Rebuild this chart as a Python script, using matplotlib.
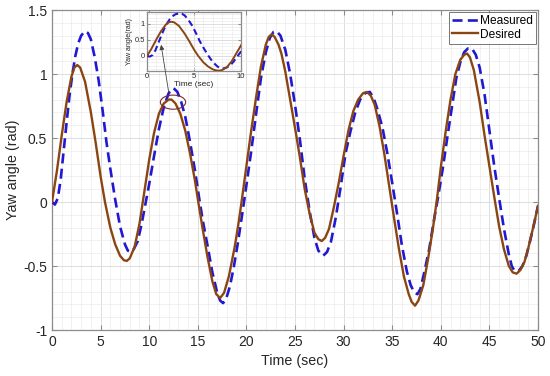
import matplotlib
matplotlib.use("Agg")
import matplotlib.pyplot as plt
from matplotlib.patches import Ellipse
from matplotlib.ticker import MultipleLocator

plt.rcParams['font.family'] = ['Liberation Sans', 'DejaVu Sans']

# ---- data ----
t_desired = [0.0, 0.5, 1.0, 1.5, 2.0, 2.3, 2.6, 2.9, 3.4, 4.0, 4.5, 5.0, 5.45, 6.0, 6.5, 7.0, 7.4, 7.7,
             8.0, 8.5, 9.0, 9.5, 10.0, 10.5, 11.0, 11.5, 12.0, 12.3, 12.7, 13.2, 13.7, 14.2, 14.7, 15.05,
             15.5, 16.0, 16.5, 16.9, 17.3, 17.7, 18.2, 18.8, 19.2, 19.5, 20.0, 20.5, 21.0, 21.5, 22.0,
             22.3, 22.6, 22.9, 23.3, 23.6, 24.0, 24.5, 25.0, 25.5, 26.0, 26.5, 27.0, 27.4, 27.75, 28.1,
             28.5, 29.0, 29.5, 30.0, 30.5, 31.0, 31.5, 32.0, 32.4, 32.8, 33.2, 33.7, 34.2, 34.7, 35.2,
             35.7, 36.2, 36.7, 37.0, 37.35, 37.7, 38.2, 38.7, 39.2, 39.6, 40.0, 40.5, 41.0, 41.5, 42.0,
             42.4, 42.7, 43.0, 43.4, 44.0, 44.5, 45.0, 45.5, 46.0, 46.5, 47.0, 47.4, 47.8, 48.2, 48.6,
             49.0, 49.5, 50.0]
y_desired = [0.00, 0.24, 0.52, 0.78, 0.98, 1.05, 1.07, 1.05, 0.94, 0.70, 0.46, 0.20, 0.00, -0.20, -0.33,
             -0.42, -0.455, -0.46, -0.44, -0.35, -0.17, 0.08, 0.33, 0.54, 0.69, 0.77, 0.80, 0.80, 0.77,
             0.69, 0.56, 0.38, 0.17, 0.00, -0.21, -0.43, -0.62, -0.72, -0.75, -0.71, -0.58, -0.35, -0.16,
             0.00, 0.28, 0.56, 0.82, 1.06, 1.23, 1.29, 1.31, 1.29, 1.23, 1.16, 1.02, 0.80, 0.58, 0.35,
             0.10, -0.09, -0.24, -0.29, -0.305, -0.28, -0.21, -0.04, 0.15, 0.36, 0.56, 0.71, 0.80, 0.85,
             0.86, 0.83, 0.76, 0.59, 0.37, 0.12, -0.13, -0.37, -0.58, -0.72, -0.78, -0.81, -0.77, -0.65,
             -0.44, -0.20, 0.02, 0.27, 0.55, 0.80, 1.00, 1.11, 1.15, 1.16, 1.13, 1.03, 0.78, 0.52, 0.28,
             0.04, -0.19, -0.37, -0.50, -0.55, -0.56, -0.53, -0.47, -0.36, -0.20, -0.03]

t_measured = [0.0, 0.3, 0.6, 0.9, 1.2, 1.5, 1.8, 2.1, 2.4, 2.7, 3.0, 3.4, 3.7, 4.0, 4.4, 4.8, 5.2, 5.6,
              6.0, 6.5, 7.0, 7.5, 7.8, 8.1, 8.4, 8.8, 9.2, 9.6, 10.0, 10.5, 11.0, 11.5, 12.0, 12.5, 12.9,
              13.3, 13.7, 14.2, 14.7, 15.1, 15.5, 16.0, 16.5, 17.0, 17.3, 17.6, 17.9, 18.3, 18.7, 19.1,
              19.5, 20.0, 20.5, 21.0, 21.5, 22.0, 22.4, 22.8, 23.1, 23.5, 24.0, 24.5, 25.0, 25.5, 26.0,
              26.5, 27.0, 27.4, 27.9, 28.3, 28.7, 29.2, 29.7, 30.2, 30.7, 31.2, 31.7, 32.2, 32.7, 33.1,
              33.5, 34.0, 34.5, 35.0, 35.5, 36.0, 36.5, 36.9, 37.3, 37.6, 37.9, 38.3, 38.8, 39.3, 39.7,
              40.2, 40.7, 41.2, 41.6, 42.0, 42.4, 42.8, 43.2, 43.6, 44.0, 44.5, 45.0, 45.5, 46.0, 46.5,
              47.0, 47.3, 47.6, 48.0, 48.4, 48.8, 49.2, 49.6, 50.0]
y_measured = [0.00, -0.02, 0.03, 0.18, 0.40, 0.62, 0.83, 1.00, 1.14, 1.24, 1.30, 1.335, 1.32, 1.27, 1.13,
              0.95, 0.72, 0.47, 0.26, 0.02, -0.19, -0.33, -0.38, -0.39, -0.37, -0.31, -0.18, -0.02, 0.14,
              0.36, 0.57, 0.74, 0.85, 0.89, 0.86, 0.78, 0.67, 0.47, 0.25, 0.05, -0.14, -0.34, -0.55, -0.71,
              -0.77, -0.79, -0.76, -0.66, -0.51, -0.33, -0.13, 0.13, 0.40, 0.69, 0.97, 1.17, 1.28, 1.33,
              1.335, 1.30, 1.19, 1.00, 0.76, 0.49, 0.18, -0.07, -0.28, -0.38, -0.42, -0.39, -0.31, -0.12,
              0.12, 0.38, 0.55, 0.70, 0.80, 0.85, 0.86, 0.81, 0.72, 0.58, 0.38, 0.15, -0.09, -0.34, -0.54,
              -0.65, -0.71, -0.72, -0.68, -0.55, -0.37, -0.14, 0.03, 0.26, 0.52, 0.77, 0.97, 1.09, 1.17,
              1.20, 1.20, 1.15, 1.05, 0.84, 0.56, 0.28, 0.03, -0.21, -0.41, -0.50, -0.54, -0.54, -0.50,
              -0.42, -0.30, -0.17, -0.03]

x_ticks = [0, 5, 10, 15, 20, 25, 30, 35, 40, 45, 50]
y_ticks = [-1, -0.5, 0, 0.5, 1, 1.5]
y_ticklabels = ['-1', '-0.5', '0', '0.5', '1', '1.5']
inset_x_ticks = [0, 5, 10]
inset_y_ticks = [0, 0.5, 1]
inset_y_ticklabels = ['0', '0.5', '1']

c_meas = '#2218d2'
c_des = '#8a4612'
spine_c = '#8c8c8c'

fig = plt.figure(figsize=(5.5, 3.76), dpi=100)
ax = fig.add_axes([52/550, 1-330/376, (538-52)/550, (330-10)/376])


def style_axes(a, fs, minor_x, minor_y):
    a.xaxis.set_minor_locator(MultipleLocator(minor_x))
    a.yaxis.set_minor_locator(MultipleLocator(minor_y))
    a.grid(True, which='major', color='#d8d8d8', lw=0.6)
    a.grid(True, which='minor', color='#ebebeb', lw=0.5)
    a.set_axisbelow(True)
    a.tick_params(which='both', direction='in', top=True, right=True, colors=spine_c,
                  labelcolor='#262626', labelsize=fs)
    a.tick_params(which='major', length=3.5)
    a.tick_params(which='minor', length=0)
    for s in a.spines.values():
        s.set_color(spine_c)
        s.set_linewidth(0.9)


ax.plot(t_measured, y_measured, color=c_meas, lw=1.9, dashes=(3.8, 2.0), label='Measured', zorder=3)
ax.plot(t_desired, y_desired, color=c_des, lw=1.7, label='Desired', zorder=4)
ax.set_xlim(0, 50)
ax.set_ylim(-1, 1.5)
ax.set_xticks(x_ticks)
ax.set_yticks(y_ticks)
ax.set_yticklabels(y_ticklabels)
style_axes(ax, 10, 1, 0.1)
ax.set_xlabel('Time (sec)', fontsize=10.3, color='#262626', labelpad=4)
ax.set_ylabel('Yaw angle (rad)', fontsize=10.3, color='#262626', labelpad=2)

leg = ax.legend(loc='upper right', fontsize=8.6, frameon=True, fancybox=False, borderaxespad=0.15,
                handlelength=2.2, handletextpad=0.2, borderpad=0.25, labelspacing=0.15)
leg.get_frame().set_edgecolor('#555555')
leg.get_frame().set_linewidth(0.7)

ell = Ellipse((12.45, 0.78), 2.6, 0.11, fill=False, edgecolor='#7a2a33', lw=0.8, zorder=5)
ax.add_patch(ell)

# inset
axi = fig.add_axes([147/550, 1-71/376, (241-147)/550, (71-12)/376])
axi.set_zorder(6)
axi.plot(t_measured, y_measured, color=c_meas, lw=1.5, dashes=(3.0, 1.8), zorder=3)
axi.plot(t_desired, y_desired, color=c_des, lw=1.4, zorder=4)
axi.set_xlim(0, 10)
axi.set_ylim(-0.47, 1.375)
axi.set_xticks(inset_x_ticks)
axi.set_yticks(inset_y_ticks)
axi.set_yticklabels(inset_y_ticklabels)
style_axes(axi, 5.5, 1, 0.1)
axi.tick_params(which='major', length=2, pad=1.5)
axi.set_xlabel('Time (sec)', fontsize=6, color='#262626', labelpad=1)
axi.set_ylabel('Yaw angle(rad)', fontsize=5, color='#262626', labelpad=1)

axi.annotate('', xy=(1.5, 0.35), xycoords='data', xytext=(12.0, 0.86), textcoords=ax.transData,
             arrowprops=dict(arrowstyle='-|>', color='#444444', lw=0.6, mutation_scale=7,
                             shrinkA=0, shrinkB=0),
             annotation_clip=False, zorder=7)

fig.savefig('out.png', dpi=100)
